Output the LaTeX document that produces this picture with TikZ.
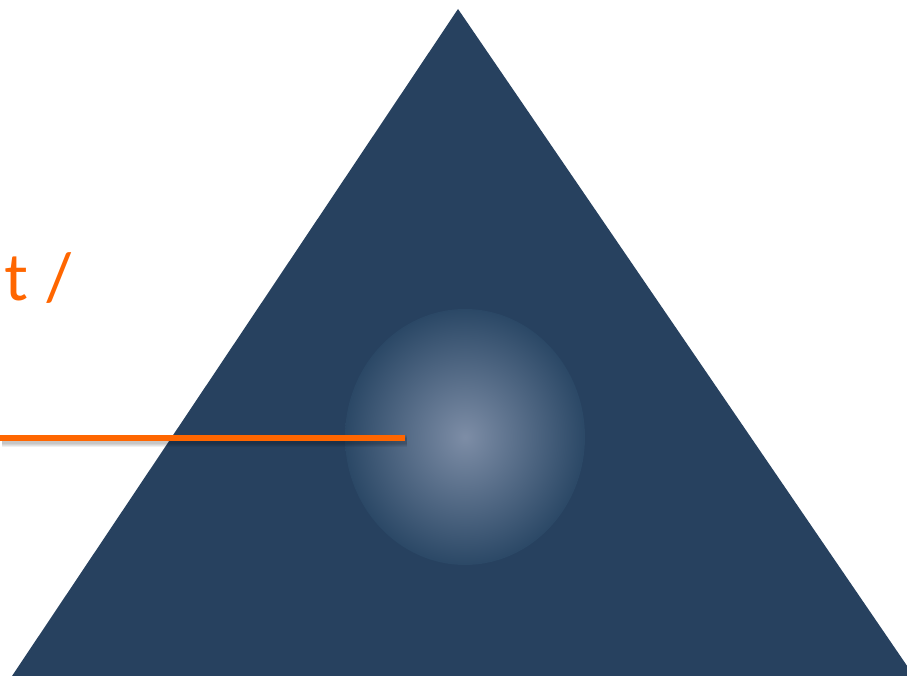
\documentclass[tikz,border=0pt]{standalone}
\usepackage{fontspec}
\newfontfamily\labelfont{Lato}
\definecolor{prismblue}{HTML}{27415F}
\definecolor{glowin}{HTML}{7D8DA6}
\definecolor{glowout}{HTML}{2B4866}
\definecolor{accent}{HTML}{FF6600}
\tikzset{
  pointer/.style={line width=6pt, accent},
  pointershadow/.style={black, opacity=0.06},
}
\begin{document}
\begin{tikzpicture}[x=1pt, y=-1pt]
    % Rahmen
    \useasboundingbox (0,0) rectangle (907,676);
    \clip (0,0) rectangle (907,676);
    \fill[white] (0,0) rectangle (907,676);

    % Dreieck
    \fill[prismblue] (458,9) -- (914,676) -- (12,676) -- cycle;

    % Leuchten
    \shade[inner color=glowin, outer color=glowout] (465,437) ellipse (120 and 128);

    % Beschriftung
    \node[anchor=base west, inner sep=0pt, text=accent, font=\labelfont\fontsize{65}{65}\selectfont] (caption) at (4,300) {t /};

    % Zeiger
    \coordinate (pointerStart) at (0,438);
    \coordinate (pointerEnd) at (405,438);
    \foreach \w in {6,8,10,12}
      \draw[pointershadow, line width=\w pt] ([shift={(2,3)}]pointerStart) -- ([shift={(2,3)}]pointerEnd);
    \draw[pointer] (pointerStart) -- (pointerEnd);
\end{tikzpicture}
\end{document}
